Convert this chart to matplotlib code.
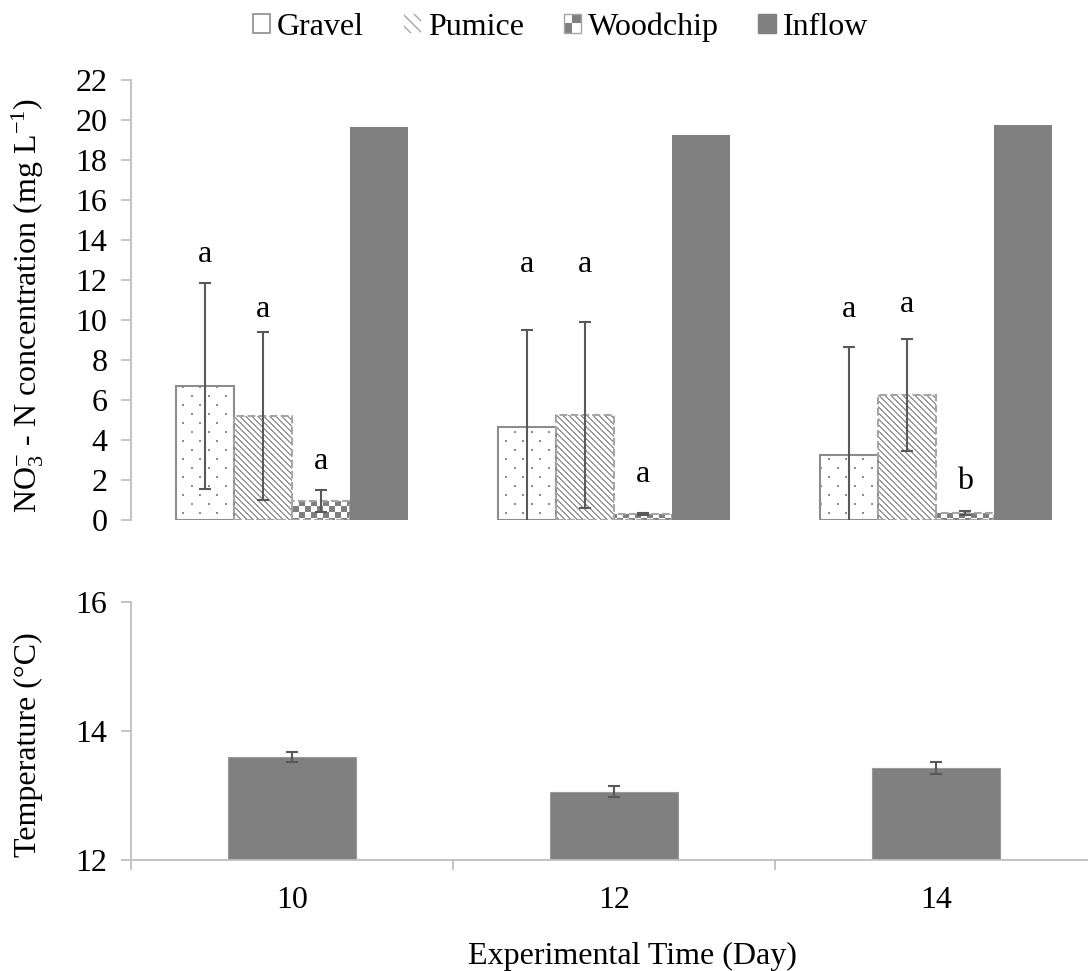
import numpy as np
import matplotlib.pyplot as plt
from matplotlib.patches import Patch, Rectangle
from matplotlib.legend_handler import HandlerBase

plt.rcParams['font.family'] = 'Liberation Serif'
plt.rcParams['font.size'] = 23
plt.rcParams['mathtext.fontset'] = 'custom'
plt.rcParams['mathtext.rm'] = 'Liberation Serif'
plt.rcParams['mathtext.it'] = 'Liberation Serif:italic'

# Dados
days = ['10', '12', '14']
media = ['Gravel', 'Pumice', 'Woodchip', 'Inflow']

no3_mean = {
    'Gravel':   [6.7, 4.65, 3.25],
    'Pumice':   [5.2, 5.25, 6.25],
    'Woodchip': [0.95, 0.3, 0.35],
    'Inflow':   [19.65, 19.25, 19.75],
}
no3_sd = {
    'Gravel':   [5.15, 4.85, 5.4],
    'Pumice':   [4.2, 4.65, 2.8],
    'Woodchip': [0.55, 0.05, 0.08],
}
# letras de significância e altura (linha de base) onde ficam
letters = {
    'Gravel':   ['a', 'a', 'a'],
    'Pumice':   ['a', 'a', 'a'],
    'Woodchip': ['a', 'a', 'b'],
}
letter_y = {
    'Gravel':   [12.9, 12.4, 10.15],
    'Pumice':   [10.15, 12.4, 10.4],
    'Woodchip': [2.55, 1.9, 1.55],
}

temp_mean = [13.6, 13.06, 13.43]
temp_sd = [0.08, 0.08, 0.09]

GRAY = '#808080'
EDGE = '#8c8c8c'
ERR = '#595959'
AXIS = '#bfbfbf'

W_PX, H_PX = 1088, 971
AX_L, AX_R = 131, 1097
fig = plt.figure(figsize=(W_PX / 100, H_PX / 100), dpi=100)
ax1 = fig.add_axes([AX_L / W_PX, 1 - 520 / H_PX, (AX_R - AX_L) / W_PX, 440 / H_PX])
ax2 = fig.add_axes([AX_L / W_PX, 1 - 860 / H_PX, (AX_R - AX_L) / W_PX, 258 / H_PX])

x = np.arange(len(days))
w = 0.18
offsets = {'Gravel': -1.5 * w, 'Pumice': -0.5 * w, 'Woodchip': 0.5 * w, 'Inflow': 1.5 * w}


# texturas no tamanho do eixo em pixels (uma célula = um pixel)
def texture(kind, h=440, wd=AX_R - AX_L):
    ii, jj = np.mgrid[0:h, 0:wd]
    img = np.ones((h, wd, 3))
    if kind == 'dots':
        row = ii % 9 == 0
        shift = np.where((ii // 9) % 2 == 0, 0, 8)
        mask = row & ((jj + shift) % 17 < 2)
        mask = mask | np.roll(mask, 1, axis=0)
        img[mask] = [0.55, 0.55, 0.55]
    elif kind == 'lines':
        mask = (jj - ii) % 6 < 2
        img[mask] = [0.6, 0.6, 0.6]
    elif kind == 'checker':
        mask = ((ii // 6) + (jj // 6)) % 2 == 0
        img[mask] = [0.5, 0.5, 0.5]
    return img


def textured_bars(ax, xs, heights, kind, edge, ls):
    bars = ax.bar(xs, heights, w, facecolor='none', edgecolor=edge,
                  linewidth=1.5, linestyle=ls, zorder=2)
    tex = texture(kind)
    for rect in bars.patches:
        im = ax.imshow(tex, extent=(-0.5, 2.5, 0, 22), origin='upper',
                       interpolation='nearest', aspect='auto', zorder=1.5)
        im.set_clip_path(rect)
    return bars


# ---------- painel superior: NO3-N ----------
textured_bars(ax1, x + offsets['Gravel'], no3_mean['Gravel'], 'dots', EDGE, '-')
textured_bars(ax1, x + offsets['Pumice'], no3_mean['Pumice'], 'lines', '#a6a6a6', '--')
textured_bars(ax1, x + offsets['Woodchip'], no3_mean['Woodchip'], 'checker', '#a6a6a6', '--')
ax1.bar(x + offsets['Inflow'], no3_mean['Inflow'], w, color=GRAY, zorder=2)

for m in ['Gravel', 'Pumice', 'Woodchip']:
    ax1.errorbar(x + offsets[m], no3_mean[m], yerr=no3_sd[m], fmt='none',
                 ecolor=ERR, elinewidth=1.5, capsize=4, capthick=1.5, zorder=3)
    for i in range(len(days)):
        ax1.text(x[i] + offsets[m], letter_y[m][i], letters[m][i],
                 ha='center', va='baseline')

ax1.set_xlim(-0.5, 2.5)
ax1.set_ylim(0, 22)
ax1.set_yticks(np.arange(0, 23, 2))
ax1.set_xticks([])
for s in ['top', 'right', 'bottom']:
    ax1.spines[s].set_visible(False)
ax1.spines['left'].set_color(AXIS)
ax1.spines['left'].set_linewidth(1.3)
ax1.tick_params(axis='y', color=AXIS, length=7, width=1.3, pad=10)


# legenda
class CheckerHandler(HandlerBase):
    def create_artists(self, legend, orig_handle, xdescent, ydescent,
                       width, height, fontsize, trans):
        n = 2
        out = []
        for i in range(n):
            for j in range(n):
                fc = GRAY if (i + j) % 2 == 0 else 'white'
                out.append(Rectangle((-xdescent + i * width / n, -ydescent + j * height / n),
                                     width / n, height / n, facecolor=fc,
                                     edgecolor='none', transform=trans))
        out.append(Rectangle((-xdescent, -ydescent), width, height, facecolor='none',
                             edgecolor='#a6a6a6', linewidth=1.0, transform=trans))
        return out


handles = [
    Patch(facecolor='white', edgecolor=EDGE, linewidth=1.2),
    Patch(facecolor='white', edgecolor='#a6a6a6', hatch='\\\\\\', linewidth=0),
    Patch(facecolor='white'),
    Patch(facecolor=GRAY, edgecolor=GRAY),
]
fig.legend(handles, media, loc='center', bbox_to_anchor=(0.515, 1 - 27 / H_PX), ncol=4,
           frameon=False, handlelength=0.55, handleheight=0.55, handletextpad=0.2,
           columnspacing=1.25, borderaxespad=0, handler_map={handles[2]: CheckerHandler()})

fig.text(28 / W_PX, 1 - 306 / H_PX, r'NO$_3^{-}$ - N concentration (mg L$^{-1}$)',
         rotation=90, ha='center', va='center')

# ---------- painel inferior: temperatura ----------
ax2.bar(x, temp_mean, 0.4, color=GRAY, edgecolor='#999999', linewidth=0.8)
ax2.errorbar(x, temp_mean, yerr=temp_sd, fmt='none', ecolor=ERR,
             elinewidth=1.5, capsize=4.5, capthick=1.5)
ax2.set_xlim(-0.5, 2.5)
ax2.set_ylim(12, 16)
ax2.set_yticks([12, 14, 16])
ax2.set_xticks(x)
ax2.set_xticklabels(days)
ax2.set_xticks([-0.5, 0.5, 1.5, 2.5], minor=True)
for s in ['top', 'right']:
    ax2.spines[s].set_visible(False)
for s in ['left', 'bottom']:
    ax2.spines[s].set_color(AXIS)
    ax2.spines[s].set_linewidth(1.3)
ax2.tick_params(axis='y', color=AXIS, length=7, width=1.3, pad=10)
ax2.tick_params(axis='x', which='major', length=0, pad=19)
ax2.tick_params(axis='x', which='minor', color=AXIS, length=7, width=1.3)

fig.text(28 / W_PX, 1 - 745 / H_PX, 'Temperature (°C)', rotation=90, ha='center', va='center')
fig.text(632 / W_PX, 1 - 956 / H_PX, 'Experimental Time (Day)', ha='center', va='center')

fig.savefig('out.png', dpi=100)
